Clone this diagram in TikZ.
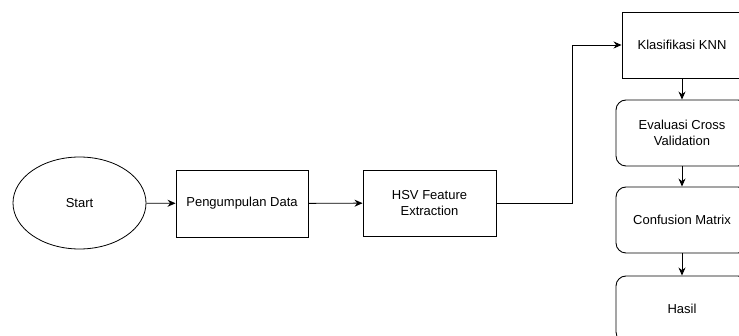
\documentclass[tikz,border=0pt]{standalone}
\usepackage{fontspec}
\setmainfont{Liberation Sans}
\usetikzlibrary{shapes.geometric,arrows.meta}
\tikzset{
  box/.style={draw=black, line width=0.9pt, rectangle, inner sep=0pt, align=center,
    font=\fontsize{13}{16.5}\selectfont},
  rbox/.style={box, rounded corners=10pt},
  oval/.style={draw=black, line width=0.8pt, ellipse, inner sep=0pt,
    minimum width=133pt, minimum height=92pt, font=\fontsize{13}{16.5}\selectfont},
  conn/.style={draw=black, line width=0.9pt, -{Stealth[length=8pt,width=7pt]}}
}
\begin{document}
\begin{tikzpicture}[x=1pt,y=-1pt]
\useasboundingbox (0,0) rectangle (739,336);
\clip (0,0) rectangle (739,336);
\node[oval] (start) at (79.5,203) {Start};
\node[box, minimum width=132pt, minimum height=67pt] (peng) at (242,203.5) {Pengumpulan Data};
\node[box, minimum width=133pt, minimum height=66pt] (hsv) at (429.5,203) {HSV Feature\\Extraction};
\node[box, minimum width=120pt, minimum height=66pt] (knn) at (682,45) {Klasifikasi KNN};
\node[rbox, minimum width=132pt, minimum height=66pt] (eval) at (682,133) {Evaluasi Cross\\Validation};
\node[rbox, minimum width=132pt, minimum height=66pt] (conf) at (682,220) {Confusion Matrix};
\node[rbox, minimum width=132pt, minimum height=66pt] (hasil) at (682,309) {Hasil};
\coordinate (bend) at (572,203);
\draw[conn] (start) -- (peng);
\draw[conn] (peng) -- (hsv);
\draw[conn] (hsv.east) -- (bend) |- (knn.west);
\draw[conn] (knn) -- (eval);
\draw[conn] (eval) -- (conf);
\draw[conn] (conf) -- (hasil);
\end{tikzpicture}
\end{document}
